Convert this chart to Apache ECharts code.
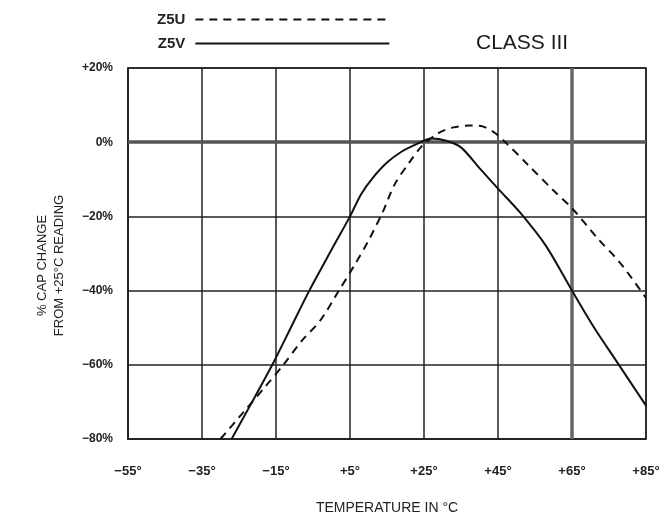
<!DOCTYPE html>
<html>
<head>
<meta charset="utf-8">
<script src="https://cdn.jsdelivr.net/npm/echarts@6/dist/echarts.min.js"></script>
<style>html,body{margin:0;padding:0;background:#fff;}#c{width:669px;height:520px;}</style>
</head>
<body>
<div id="c"></div>
<script>
// Temperature (°C) and % capacitance change
var z5vTemps  = [-27, -22, -16, -11, -6, 0, 5, 8, 11, 15, 19, 23, 27, 31, 35, 40, 45, 51, 58, 65, 71, 77, 85];
var z5vValues = [-80, -71, -60, -50, -40, -29, -20, -14, -9.8, -5.5, -2.5, -0.5, 1, 0.4, -1.4, -7, -12.5, -19, -28, -40, -50, -59, -71];

var z5uTemps  = [-30, -24, -18, -13, -8, -3, 2, 6, 10, 14, 17, 21, 24.5, 29, 33, 37.5, 41, 44, 47, 53, 60, 65, 72, 78, 85];
var z5uValues = [-80, -73, -66, -60, -53.5, -48, -40, -33.5, -26.5, -18.5, -11.5, -5.5, -1, 2.5, 4, 4.5, 4.2, 2.6, 0, -6, -13, -17.8, -26, -32.5, -42];

var seriesNames = ['Z5U', 'Z5V'];
var titleText = 'CLASS III';
var xAxisName = 'TEMPERATURE IN °C';
var yAxisName = '% CAP CHANGE\nFROM +25°C READING';
var xTicks = {min: -55, max: 85, step: 20};
var yTicks = {min: -80, max: 20, step: 20};

function pairs(xs, ys) { return xs.map(function (x, i) { return [x, ys[i]]; }); }
function fmtX(v) { return (v > 0 ? '+' + v : (v < 0 ? '\u2212' + Math.abs(v) : '' + v)) + '°'; }
function fmtY(v) { return (v > 0 ? '+' + v : (v < 0 ? '\u2212' + Math.abs(v) : '' + v)) + '%'; }

var FONT = "'Liberation Sans', Arial, sans-serif";
var chart = echarts.init(document.getElementById('c'));
chart.setOption({
  animation: false,
  backgroundColor: '#fff',
  textStyle: {fontFamily: FONT, color: '#111'},
  title: {
    text: titleText, left: 471, top: 28,
    textStyle: {fontFamily: FONT, fontSize: 21, fontWeight: 'normal', color: '#1a1a1a'}
  },
  legend: {
    orient: 'vertical', left: 152, top: 7, itemGap: 9,
    align: 'right', itemWidth: 194, itemHeight: 18,
    selectedMode: false,
    itemStyle: {opacity: 0},
    textStyle: {fontFamily: FONT, fontSize: 15, fontWeight: 'bold', color: '#222', padding: [0, 5, 0, 0]},
    data: seriesNames
  },
  grid: {left: 128, right: 23, top: 68, bottom: 76, show: true, borderColor: '#222', borderWidth: 1.5},
  xAxis: {
    type: 'value', min: xTicks.min, max: xTicks.max, interval: xTicks.step,
    name: xAxisName, nameLocation: 'middle', nameGap: 62,
    nameTextStyle: {fontFamily: FONT, fontSize: 14, color: '#222'},
    axisLine: {show: true, onZero: false, lineStyle: {color: '#222', width: 1.5}},
    axisTick: {show: false},
    axisLabel: {margin: 26, fontSize: 13, color: '#222', fontWeight: 'bold', formatter: fmtX},
    splitLine: {show: true, lineStyle: {color: '#222', width: 1.5}}
  },
  yAxis: {
    type: 'value', min: yTicks.min, max: yTicks.max, interval: yTicks.step,
    name: yAxisName, nameLocation: 'middle', nameGap: 60, nameRotate: 90,
    nameTextStyle: {fontFamily: FONT, fontSize: 13, color: '#222', lineHeight: 17, padding: [0, 24, 0, 0]},
    axisLine: {show: true, onZero: false, lineStyle: {color: '#222', width: 1.5}},
    axisTick: {show: false},
    axisLabel: {margin: 15, fontSize: 12, color: '#222', fontWeight: 'bold', formatter: fmtY},
    splitLine: {show: true, lineStyle: {color: '#222', width: 1.5}}
  },
  series: [
    {
      name: seriesNames[0], type: 'line', data: pairs(z5uTemps, z5uValues),
      smooth: 0.3, symbol: 'none', z: 5,
      lineStyle: {color: '#111', width: 2, type: [8, 6]},
      itemStyle: {color: '#111'}
    },
    {
      name: seriesNames[1], type: 'line', data: pairs(z5vTemps, z5vValues),
      smooth: 0.3, symbol: 'none', z: 5,
      lineStyle: {color: '#111', width: 2},
      itemStyle: {color: '#111'},
      markLine: {
        silent: true, symbol: 'none', label: {show: false},
        data: [
          {yAxis: 0, lineStyle: {color: '#555', width: 3.5, type: 'solid'}},
          {xAxis: 65, lineStyle: {color: '#666', width: 3.5, type: 'solid'}}
        ]
      }
    }
  ]
});
</script>
</body>
</html>
